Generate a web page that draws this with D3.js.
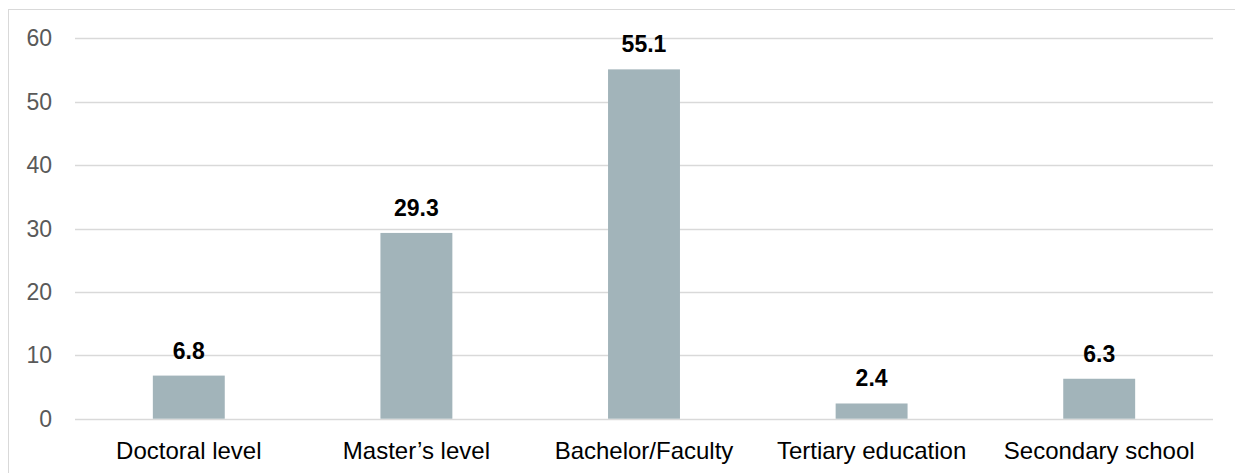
<!DOCTYPE html>
<html><head><meta charset="utf-8">
<script src="https://cdn.jsdelivr.net/npm/d3@7"></script>
<style>body{margin:0;background:#fff}svg{display:block}</style>
</head><body>
<script>
const categories = ["Doctoral level", "Master’s level", "Bachelor/Faculty", "Tertiary education", "Secondary school"];
const values = [6.8, 29.3, 55.1, 2.4, 6.3];
const yTicks = [0, 10, 20, 30, 40, 50, 60];

(function () {
const W = 1235, H = 473;
const svg = d3.select("body").append("svg").attr("width", W).attr("height", H);
svg.append("rect").attr("x", 8.5).attr("y", 9.5).attr("width", 1300).attr("height", 600)
  .attr("fill", "none").attr("stroke", "#d9d9d9").attr("stroke-width", 1);

const pL = 75, pR = 1213, pT = 38.3, pB = 418.7;
const y = d3.scaleLinear().domain([0, 60]).range([pB, pT]);
const x = d3.scaleBand().domain(categories).range([pL, pR]).paddingInner(0.684).paddingOuter(0.342);

const font = "'Liberation Sans', Arial, sans-serif";

// gridlines
svg.append("g").selectAll("line").data(yTicks).join("line")
  .attr("x1", pL).attr("x2", pR)
  .attr("y1", d => Math.round(y(d)) + 0.5).attr("y2", d => Math.round(y(d)) + 0.5)
  .attr("stroke", "#d9d9d9").attr("stroke-width", 1.3);

// y tick labels
svg.append("g").selectAll("text").data(yTicks).join("text")
  .attr("x", 52).attr("y", d => y(d)).attr("dy", "0.35em")
  .attr("text-anchor", "end").attr("font-family", font).attr("font-size", 23)
  .attr("fill", "#595959").text(d => d);

// bars
svg.append("g").selectAll("rect").data(values).join("rect")
  .attr("x", (d, i) => x(categories[i])).attr("width", x.bandwidth())
  .attr("y", d => y(d)).attr("height", d => y(0) - y(d))
  .attr("fill", "#a2b4ba");

// value labels
svg.append("g").selectAll("text").data(values).join("text")
  .attr("x", (d, i) => x(categories[i]) + x.bandwidth() / 2)
  .attr("y", d => y(d) - 17)
  .attr("text-anchor", "middle").attr("font-family", font).attr("font-size", 23)
  .attr("font-weight", "bold").attr("fill", "#000").text(d => d.toFixed(1));

// category labels
svg.append("g").selectAll("text").data(categories).join("text")
  .attr("x", d => x(d) + x.bandwidth() / 2).attr("y", 459)
  .attr("text-anchor", "middle").attr("font-family", font).attr("font-size", 24)
  .attr("fill", "#000").text(d => d);
})();
</script>
</body></html>
